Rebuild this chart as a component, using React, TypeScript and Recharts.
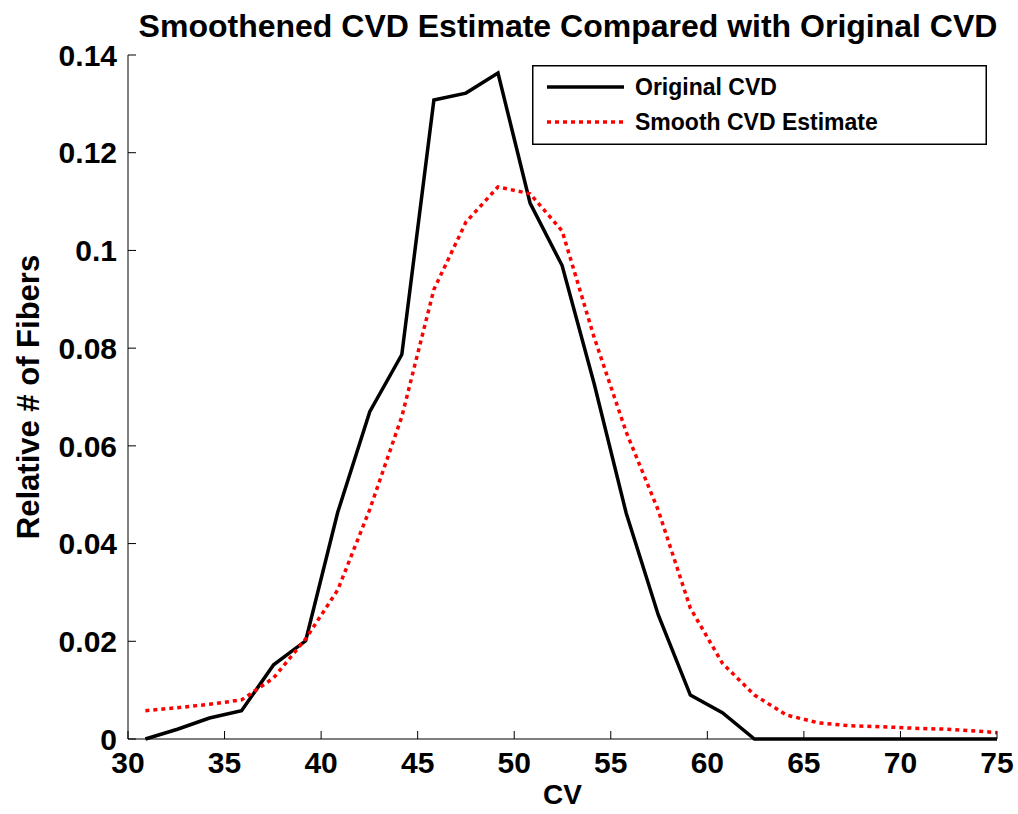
import { Legend, Line, LineChart, XAxis, YAxis } from "recharts";

const FONT = '"Liberation Sans", Arial, Helvetica, sans-serif';

// CV positions of the histogram bins
const cvBins = [
  30.9, 32.56, 34.22, 35.88, 37.54, 39.2, 40.86, 42.52, 44.18, 45.84, 47.5,
  49.16, 50.82, 52.48, 54.14, 55.8, 57.46, 59.12, 60.78, 62.44, 64.1, 65.76,
  67.42, 69.08, 70.74, 72.4, 74.06, 75,
];

const originalCvd = [
  0, 0.002, 0.0043, 0.0058, 0.0152, 0.0201, 0.0464, 0.067, 0.0787, 0.1308,
  0.1322, 0.1363, 0.1097, 0.0969, 0.0727, 0.0462, 0.0254, 0.009, 0.0054, 0, 0,
  0, 0, 0, 0, 0, 0, 0,
];

const smoothCvd = [
  0.0058, 0.0064, 0.0071, 0.008, 0.0125, 0.0205, 0.0305, 0.047, 0.066, 0.092,
  0.1058, 0.113, 0.1116, 0.104, 0.0822, 0.0628, 0.0468, 0.0268, 0.0155, 0.009,
  0.0049, 0.0033, 0.0027, 0.0025, 0.0022, 0.002, 0.0016, 0.0013,
];

const xTicks = [30, 35, 40, 45, 50, 55, 60, 65, 70, 75];
const yTicks = [0, 0.02, 0.04, 0.06, 0.08, 0.1, 0.12, 0.14];

const dados = cvBins.map((cv, i) => ({
  cv,
  original: originalCvd[i],
  smooth: smoothCvd[i],
}));

// estilo matlab: 0.1 em vez de 0.10
const fmtTick = (v: number) => String(Number(v.toFixed(2)));

const tickFont = { fill: "#000", fontSize: 30, fontWeight: 700, fontFamily: FONT };

function CaixaLegenda() {
  return (
    <svg width={455} height={80} style={{ display: "block" }}>
      <rect x={0.75} y={0.75} width={453.5} height={78.5} fill="#fff" stroke="#000" strokeWidth={1.5} />
      <line x1={15} x2={92} y1={22} y2={22} stroke="#000" strokeWidth={3.5} />
      <line x1={15} x2={92} y1={57} y2={57} stroke="#ff0000" strokeWidth={3.5} strokeDasharray="4 4" />
      <g fontFamily={FONT} fontWeight={700} fontSize={23} fill="#000">
        <text x={103} y={30}>Original CVD</text>
        <text x={103} y={65}>Smooth CVD Estimate</text>
      </g>
    </svg>
  );
}

function RotuloY() {
  return (
    <text
      x={28}
      y={397}
      transform="rotate(-90 28 397)"
      textAnchor="middle"
      dominantBaseline="central"
      fontFamily={FONT}
      fontWeight={700}
      fontSize={31}
      fill="#000"
    >
      Relative # of Fibers
    </text>
  );
}

export default function App() {
  return (
    <div style={{ position: "absolute", left: 0, top: 0, width: 1018, height: 814, background: "#fff" }}>
      <div
        style={{
          position: "absolute",
          left: 0,
          top: 8,
          width: 1018,
          paddingLeft: 118,
          boxSizing: "border-box",
          textAlign: "center",
          fontFamily: FONT,
          fontWeight: 700,
          fontSize: 32,
          lineHeight: "36px",
          color: "#000",
          whiteSpace: "nowrap",
        }}
      >
        Smoothened CVD Estimate Compared with Original CVD
      </div>
      <LineChart
        width={1018}
        height={814}
        data={dados}
        margin={{ top: 55, right: 21, bottom: 35, left: 8 }}
      >
        <XAxis
          dataKey="cv"
          type="number"
          domain={[30, 75]}
          ticks={xTicks}
          allowDataOverflow
          height={40}
          stroke="#000"
          tickSize={-8}
          tickMargin={21}
          tick={tickFont}
          label={{
            value: "CV",
            position: "insideBottom",
            offset: -25,
            fill: "#000",
            fontSize: 28,
            fontWeight: 700,
            fontFamily: FONT,
          }}
        />
        <XAxis
          xAxisId="top"
          orientation="top"
          dataKey="cv"
          type="number"
          domain={[30, 75]}
          ticks={xTicks}
          height={0}
          stroke="#000"
          tickSize={8}
          tick={false}
        />
        <YAxis
          type="number"
          domain={[0, 0.14]}
          ticks={yTicks}
          width={120}
          stroke="#000"
          tickSize={-8}
          tickMargin={19}
          tickFormatter={fmtTick}
          tick={tickFont}
          label={{ content: () => <RotuloY /> }}
        />
        <YAxis
          yAxisId="right"
          orientation="right"
          type="number"
          domain={[0, 0.14]}
          ticks={yTicks}
          width={0}
          stroke="#000"
          tickSize={8}
          tick={false}
        />
        <Legend
          layout="vertical"
          align="center"
          verticalAlign="middle"
          wrapperStyle={{ left: 532, top: 65, width: 455, height: 80 }}
          content={() => <CaixaLegenda />}
        />
        <Line
          dataKey="original"
          stroke="#000"
          strokeWidth={3.5}
          dot={false}
          type="linear"
          isAnimationActive={false}
        />
        <Line
          dataKey="smooth"
          stroke="#ff0000"
          strokeWidth={3.5}
          strokeDasharray="4 4"
          dot={false}
          type="linear"
          isAnimationActive={false}
        />
      </LineChart>
    </div>
  );
}
